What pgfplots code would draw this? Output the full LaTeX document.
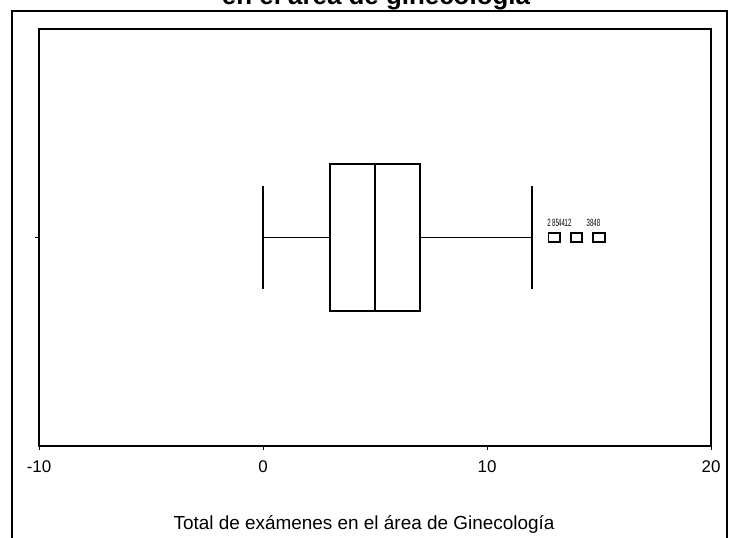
\documentclass[border=0pt]{standalone}
\usepackage{fontspec}
\setmainfont{Liberation Sans}
\usepackage{graphicx}
\usepackage{pgfplots}
\usepgfplotslibrary{statistics}
\pgfplotsset{compat=1.18}

% rounded square outlier mark
\pgfdeclareplotmark{rsq}{%
  \pgfsetcornersarced{\pgfpoint{3.5bp}{3.5bp}}%
  \pgfpathmoveto{\pgfpoint{-5.7bp}{0bp}}%
  \pgfpathlineto{\pgfpoint{-5.7bp}{4.3bp}}%
  \pgfpathlineto{\pgfpoint{5.7bp}{4.3bp}}%
  \pgfpathlineto{\pgfpoint{5.7bp}{-4.3bp}}%
  \pgfpathlineto{\pgfpoint{-5.7bp}{-4.3bp}}%
  \pgfpathclose
  \pgfusepathqstroke}

\pgfplotstableread{
x     y  lab
12.77 1  2
13.06 1  85
13.33 1  44
13.62 1  12
14.60 1  38
14.90 1  48
}\outlierlabels

\begin{document}
\begin{tikzpicture}
\useasboundingbox (-39bp,-92bp) rectangle (692bp,446bp);
% outer frame of the chart window
\draw[line width=2bp] (-27bp,-120bp) -- (-27bp,435bp) -- (688bp,435bp) -- (688bp,-120bp);
\node[anchor=base, font=\fontsize{26}{26}\selectfont\bfseries] at (337bp,441bp) {en el área de ginecología};
\begin{axis}[
    at={(0,0)}, anchor=south west,
    width=672bp, height=417bp, scale only axis,
    xmin=-10, xmax=20, ymin=0, ymax=2,
    xtick={-10,0,10,20}, ytick={1}, yticklabels={},
    xtick pos=bottom, ytick pos=left,
    tick align=outside, major tick length=4bp,
    axis line style={line width=1.3bp},
    tick style={line width=1bp, black},
    /pgf/number format/assume math mode=true,
    xticklabel style={font=\fontsize{17}{17}\selectfont, anchor=north, inner sep=0pt, yshift=-10bp},
    xlabel={Total de exámenes en el área de Ginecología},
    xlabel style={at={(axis description cs:0.5,0)}, anchor=base,
        yshift=-83bp, xshift=-11bp, font=\fontsize{19}{19}\selectfont},
    clip=false,
]
\addplot[black, line width=1.5bp,
    boxplot prepared={draw direction=x, draw position=1,
        lower whisker=0, lower quartile=3, median=5,
        upper quartile=7, upper whisker=12,
        box extend=0.705, whisker extend=0.494}]
    coordinates {};
\addplot[only marks, mark=rsq, mark options={line width=1.9bp, black}]
    coordinates {(13,1) (14,1) (15,1)};
\addplot[only marks, mark=none, point meta=explicit symbolic,
    nodes near coords={\scalebox{0.58}[1]{\pgfplotspointmeta}},
    every node near coord/.style={anchor=base, inner sep=0pt, yshift=10.5bp,
        font=\fontsize{10.5}{10.5}\selectfont}]
    table[x=x, y=y, meta=lab] {\outlierlabels};
\end{axis}
\end{tikzpicture}
\end{document}
